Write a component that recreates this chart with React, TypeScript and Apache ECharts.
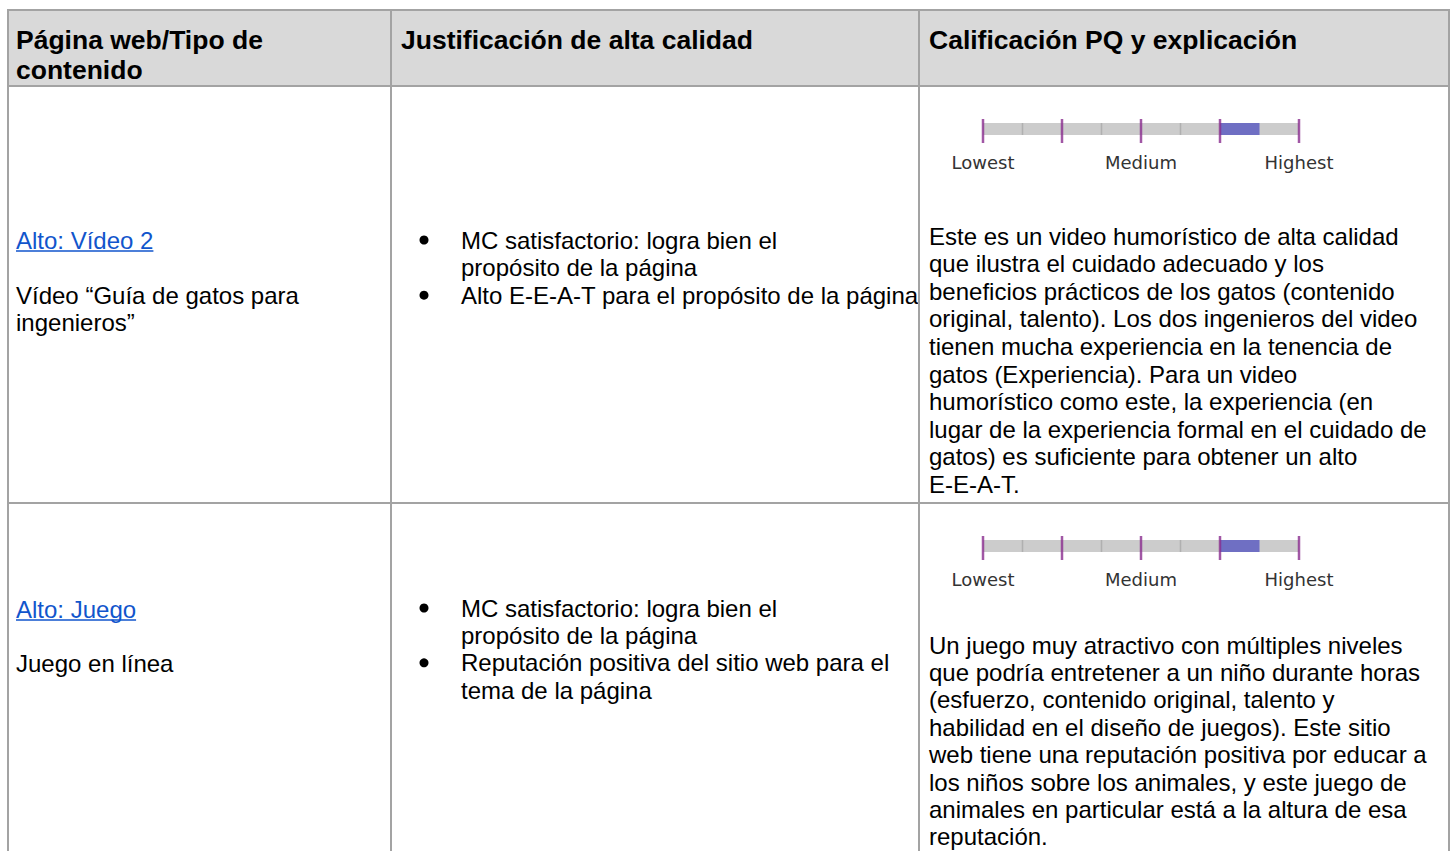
import React, { useEffect, useRef } from "react";
import * as echarts from "echarts";

// ---------- data ----------
const headers = ["Página web/Tipo de\ncontenido", "Justificación de alta calidad", "Calificación PQ y explicación"];
const pageLinks = ["Alto: Vídeo 2", "Alto: Juego"];
const pageTypes = [["Vídeo “Guía de gatos para", "ingenieros”"], ["Juego en línea"]];
const justifications = [
  [["MC satisfactorio: logra bien el", "propósito de la página"], ["Alto E-E-A-T para el propósito de la página"]],
  [["MC satisfactorio: logra bien el", "propósito de la página"], ["Reputación positiva del sitio web para el", "tema de la página"]],
];
const explanations = [
  [
    "Este es un video humorístico de alta calidad",
    "que ilustra el cuidado adecuado y los",
    "beneficios prácticos de los gatos (contenido",
    "original, talento). Los dos ingenieros del video",
    "tienen mucha experiencia en la tenencia de",
    "gatos (Experiencia). Para un video",
    "humorístico como este, la experiencia (en",
    "lugar de la experiencia formal en el cuidado de",
    "gatos) es suficiente para obtener un alto",
    "E-E-A-T.",
  ],
  [
    "Un juego muy atractivo con múltiples niveles",
    "que podría entretener a un niño durante horas",
    "(esfuerzo, contenido original, talento y",
    "habilidad en el diseño de juegos). Este sitio",
    "web tiene una reputación positiva por educar a",
    "los niños sobre los animales, y este juego de",
    "animales en particular está a la altura de esa",
    "reputación.",
  ],
];
const scaleLabels = ["Lowest", "Medium", "Highest"];
const scaleMax = 4;
const majorTicks = [0, 1, 2, 3, 4];
const minorTicks = [0.5, 1.5, 2.5];
const ratingFrom = [3, 3];
const ratingTo = [3.5, 3.5];

// ---------- layout ----------
const W = 1454;
const H = 851;
const LEFT = 8;
const RIGHT = 1449;
const TOP = 10;
const HEAD_BOTTOM = 86;
const COL2 = 391;
const COL3 = 919;
const ROW_TOPS = [86, 503];
const BORDER = "#a3a3a3";
const FONT = "'Liberation Sans', Arial, Helvetica, sans-serif";
const BODY = 24;

let measureCtx: CanvasRenderingContext2D | null = null;
function textWidth(t: string, size: number, weight = "normal") {
  if (!measureCtx) measureCtx = document.createElement("canvas").getContext("2d");
  if (!measureCtx) return t.length * size * 0.5;
  measureCtx.font = `${weight} ${size}px ${FONT}`;
  return measureCtx.measureText(t).width;
}

function txt(text: string, x: number, y: number, size = BODY, weight = "normal", fill = "#000") {
  return {
    type: "text",
    x,
    y,
    silent: true,
    style: { text, fontSize: size, fontFamily: FONT, fontWeight: weight, fill, verticalAlign: "middle", align: "left" },
  };
}

function line(x1: number, y1: number, x2: number, y2: number) {
  return { type: "line", silent: true, shape: { x1, y1, x2, y2 }, style: { stroke: BORDER, lineWidth: 2 } };
}

function buildGraphic() {
  const g: any[] = [];
  g.push({ type: "rect", silent: true, shape: { x: LEFT, y: TOP, width: RIGHT - LEFT, height: HEAD_BOTTOM - TOP }, style: { fill: "#d9d9d9" } });
  // headers
  const hx = [16, 401, 929];
  headers.forEach((h, i) => {
    h.split("\n").forEach((ln, j) => g.push(txt(ln, hx[i], 40 + j * 30, 26.5, "bold")));
  });
  // rows
  const col1Y = [240, 609];
  const col2Y = [240, 608];
  const col3Y = [236, 645];
  const pitch = [27.6, 27.4];
  for (let r = 0; r < 2; r++) {
    const P = pitch[r];
    // link
    const ly = col1Y[r];
    g.push(txt(pageLinks[r], 16, ly, BODY, "normal", "#1155cc"));
    const lw = textWidth(pageLinks[r], BODY);
    g.push({ type: "line", silent: true, shape: { x1: 16, y1: ly + 11, x2: 16 + lw, y2: ly + 11 }, style: { stroke: "#1155cc", lineWidth: 1.5 } });
    pageTypes[r].forEach((t, j) => g.push(txt(t, 16, ly + 2 * P + j * P, BODY)));
    // bullets
    let k = 0;
    justifications[r].forEach((item) => {
      item.forEach((t, j) => {
        const y = col2Y[r] + k * P;
        if (j === 0) g.push({ type: "circle", silent: true, shape: { cx: 424, cy: y, r: 4.5 }, style: { fill: "#000" } });
        g.push(txt(t, 461, y, BODY));
        k++;
      });
    });
    explanations[r].forEach((t, j) => g.push(txt(t, 929, col3Y[r] + j * P, BODY)));
  }
  // borders
  g.push(line(LEFT, TOP, RIGHT, TOP));
  g.push(line(LEFT, HEAD_BOTTOM, RIGHT, HEAD_BOTTOM));
  g.push(line(LEFT, ROW_TOPS[1], RIGHT, ROW_TOPS[1]));
  [LEFT, COL2, COL3, RIGHT].forEach((x) => g.push(line(x, TOP - 1, x, H + 2)));
  return g;
}

function buildOption() {
  const grids: any[] = [];
  const xAxes: any[] = [];
  const yAxes: any[] = [];
  const series: any[] = [];
  ROW_TOPS.forEach((rowTop, i) => {
    grids.push({ left: 983, width: 316, top: rowTop + 37, height: 12 });
    xAxes.push({
      gridIndex: i,
      type: "value",
      min: 0,
      max: scaleMax,
      interval: 2,
      axisLine: { show: false },
      axisTick: { show: false },
      splitLine: { show: false },
      axisLabel: {
        margin: 18,
        color: "#333",
        fontSize: 18,
        fontFamily: "'DejaVu Sans', Verdana, sans-serif",
        formatter: (v: number) => scaleLabels[Math.round(v / 2)] ?? "",
      },
    });
    yAxes.push({ gridIndex: i, type: "category", data: ["pq"], show: false });
    series.push({ type: "bar", xAxisIndex: i, yAxisIndex: i, data: [scaleMax], barWidth: 12, barGap: "-100%", itemStyle: { color: "#cccccc" }, silent: true, z: 1 });
    series.push({ type: "bar", xAxisIndex: i, yAxisIndex: i, stack: "r" + i, data: [ratingFrom[i]], barWidth: 12, barGap: "-100%", itemStyle: { color: "rgba(0,0,0,0)" }, silent: true, z: 2 });
    series.push({ type: "bar", xAxisIndex: i, yAxisIndex: i, stack: "r" + i, data: [ratingTo[i] - ratingFrom[i]], barWidth: 12, barGap: "-100%", itemStyle: { color: "#6f6fc3" }, silent: true, z: 2 });
    series.push({ type: "scatter", xAxisIndex: i, yAxisIndex: i, data: minorTicks.map((v) => [v, 0]), symbol: "rect", symbolSize: [1.5, 12], itemStyle: { color: "#a9a9a9" }, silent: true, z: 3 });
    series.push({ type: "scatter", xAxisIndex: i, yAxisIndex: i, data: majorTicks.map((v) => [v, 0]), symbol: "rect", symbolSize: [2.5, 24], symbolOffset: [0, 2], itemStyle: { color: "#8a2d8e" }, silent: true, z: 4 });
  });
  return {
    animation: false,
    backgroundColor: "#ffffff",
    grid: grids,
    xAxis: xAxes,
    yAxis: yAxes,
    series,
    graphic: { elements: buildGraphic() },
  };
}

export default function App() {
  const ref = useRef<HTMLDivElement>(null);
  useEffect(() => {
    if (!ref.current) return;
    const chart = echarts.init(ref.current, undefined, { renderer: "svg" });
    chart.setOption(buildOption() as any);
    return () => chart.dispose();
  }, []);
  return <div ref={ref} style={{ position: "fixed", left: 0, top: 0, width: W, height: H }} />;
}
